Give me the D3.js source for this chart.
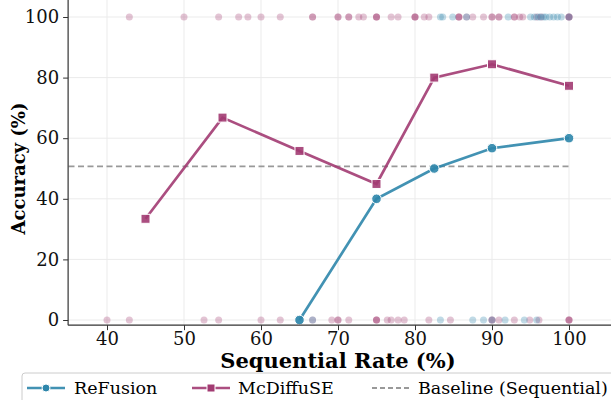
<!DOCTYPE html>
<html><head><meta charset="utf-8">
<script src="https://cdn.jsdelivr.net/npm/d3@7"></script>
<style>body{margin:0;background:#fff}svg{display:block}</style>
</head><body>
<svg id="chart" width="611" height="400"></svg>
<script>
const xTicks = [40,50,60,70,80,90,100];
const yTicks = [0,20,40,60,80,100];
const refusionX = [65,75,82.5,90,100];
const refusionY = [0,40,50,56.7,60];
const mcdiffX = [45,55,65,75,82.5,90,100];
const mcdiffY = [33.4,66.8,55.8,44.9,80,84.4,77.3];
const baselineY = 50.7;
// per-sample outcomes (sequential rate of sample) at 100% / 0% accuracy
const mcdiffCorrect = [42.9,50,54.5,57.1,58.3,60,62.5,66.7,66.7,70,70,71.4,71.4,72.7,73.3,75,75,75,76.9,77.8,80,80,80,81.2,81.8,85.7,85.7,85.7,86.7,87.5,88.9,90,90,90.9,90.9,92.9,92.9,93.6,94,95.8,96.4,100,100,100];
const refusionCorrect = [83.3,83.6,84.9,86.7,92.1,95,95.5,96,96.3,96.7,97,97.5,98,98.5,99,100];
const mcdiffWrong = [40,42.9,52.6,54.5,60,62.5,66.7,69.2,70,70,71.4,75,75,75,76.4,76.9,77.8,78.6,81.8,84.6,90,90,90.9,92.9,94.9,96.1,100,100,100];
const refusionWrong = [65,66.7,83.3,87.5,88.9,90,91.7,94.2,95.8];

const blue = "#2E86AB", pink = "#A23B72";
const svg = d3.select("#chart");
const x = d3.scaleLinear().domain([40,100]).range([107,569]);
const y = d3.scaleLinear().domain([0,100]).range([320,17]);
const pLeft = x(34.95), pRight = 611, pTop = 0, pBottom = y(-1.7);
const serif = "'DejaVu Serif', 'Liberation Serif', serif";

// grid
svg.append("g").selectAll("line").data(xTicks).join("line")
  .attr("x1",d=>x(d)).attr("x2",d=>x(d)).attr("y1",pTop).attr("y2",pBottom)
  .attr("stroke","#ebebeb").attr("stroke-width",1);
svg.append("g").selectAll("line").data(yTicks).join("line")
  .attr("x1",pLeft).attr("x2",pRight).attr("y1",d=>y(d)).attr("y2",d=>y(d))
  .attr("stroke","#ebebeb").attr("stroke-width",1);

// scatter of samples
function dots(arr, acc, color){
  svg.append("g").selectAll("circle").data(arr).join("circle")
    .attr("cx",d=>x(d)).attr("cy",y(acc)).attr("r",3.5)
    .attr("fill",color).attr("fill-opacity",0.3);
}
dots(mcdiffCorrect,100,pink); dots(refusionCorrect,100,blue);
dots(mcdiffWrong,0,pink); dots(refusionWrong,0,blue);

// baseline
svg.append("line").attr("x1",x(35)).attr("x2",x(100)).attr("y1",y(baselineY)).attr("y2",y(baselineY))
  .attr("stroke","#999").attr("stroke-width",1.8).attr("stroke-dasharray","6,3.5");

const line = d3.line().x(d=>x(d[0])).y(d=>y(d[1]));
const rf = refusionX.map((d,i)=>[d,refusionY[i]]);
const md = mcdiffX.map((d,i)=>[d,mcdiffY[i]]);
svg.append("path").datum(md).attr("d",line).attr("fill","none").attr("stroke",pink).attr("stroke-opacity",0.9).attr("stroke-width",2.7);
svg.append("path").datum(rf).attr("d",line).attr("fill","none").attr("stroke",blue).attr("stroke-opacity",0.9).attr("stroke-width",2.7);
svg.append("g").selectAll("rect").data(md).join("rect")
  .attr("x",d=>x(d[0])-4.5).attr("y",d=>y(d[1])-4.5).attr("width",9).attr("height",9)
  .attr("fill",pink).attr("fill-opacity",0.9).attr("stroke","#fff").attr("stroke-width",1);
svg.append("g").selectAll("circle").data(rf).join("circle")
  .attr("cx",d=>x(d[0])).attr("cy",d=>y(d[1])).attr("r",4.8)
  .attr("fill",blue).attr("fill-opacity",0.9).attr("stroke","#fff").attr("stroke-width",1);

// axes
const xAxis = svg.append("g").attr("transform",`translate(0,${pBottom})`)
  .call(d3.axisBottom(x).tickValues(xTicks).tickSize(5).tickPadding(2));
xAxis.select(".domain").remove();
xAxis.append("line").attr("x1",pLeft).attr("x2",pRight).attr("stroke","#333").attr("stroke-width",1.2);
const yAxis = svg.append("g").attr("transform",`translate(${pLeft},0)`)
  .call(d3.axisLeft(y).tickValues(yTicks).tickSize(5).tickPadding(4));
yAxis.select(".domain").remove();
yAxis.append("line").attr("y1",pTop).attr("y2",pBottom).attr("stroke","#333").attr("stroke-width",1.2);
svg.selectAll(".tick line").attr("stroke","#333");
svg.selectAll("g.tick text").attr("font-family",serif).attr("font-size",18).attr("fill","#111");
xAxis.attr("font-family",serif).attr("font-size",18);
yAxis.attr("font-family",serif).attr("font-size",18);

svg.append("text").attr("x",338).attr("y",368).attr("text-anchor","middle")
  .attr("font-family",serif).attr("font-weight","bold").attr("font-size",21).text("Sequential Rate (%)");
svg.append("text").attr("transform",`translate(25,${y(50)}) rotate(-90)`).attr("text-anchor","middle")
  .attr("font-family",serif).attr("font-weight","bold").attr("font-size",18).text("Accuracy (%)");

// legend
const lg = svg.append("g");
lg.append("rect").attr("x",22).attr("y",373).attr("width",600).attr("height",40).attr("rx",3)
  .attr("fill","#fff").attr("stroke","#ccc").attr("stroke-width",1);
const ly = 388;
lg.append("line").attr("x1",27).attr("x2",65).attr("y1",ly).attr("y2",ly).attr("stroke",blue).attr("stroke-opacity",0.9).attr("stroke-width",2.6);
lg.append("circle").attr("cx",46).attr("cy",ly).attr("r",4).attr("fill",blue).attr("stroke","#fff").attr("stroke-width",1);
lg.append("text").attr("x",74).attr("y",ly+6.3).attr("font-family",serif).attr("font-size",17.5).text("ReFusion");
lg.append("line").attr("x1",192).attr("x2",230).attr("y1",ly).attr("y2",ly).attr("stroke",pink).attr("stroke-opacity",0.9).attr("stroke-width",2.6);
lg.append("rect").attr("x",207).attr("y",ly-4).attr("width",8).attr("height",8).attr("fill",pink).attr("stroke","#fff").attr("stroke-width",1);
lg.append("text").attr("x",238).attr("y",ly+6.3).attr("font-family",serif).attr("font-size",17.5).text("McDiffuSE");
lg.append("line").attr("x1",372).attr("x2",409).attr("y1",ly).attr("y2",ly).attr("stroke","#999").attr("stroke-width",1.8).attr("stroke-dasharray","5,3");
lg.append("text").attr("x",418).attr("y",ly+6.3).attr("font-family",serif).attr("font-size",17.5).text("Baseline (Sequential)");
</script>
</body></html>
